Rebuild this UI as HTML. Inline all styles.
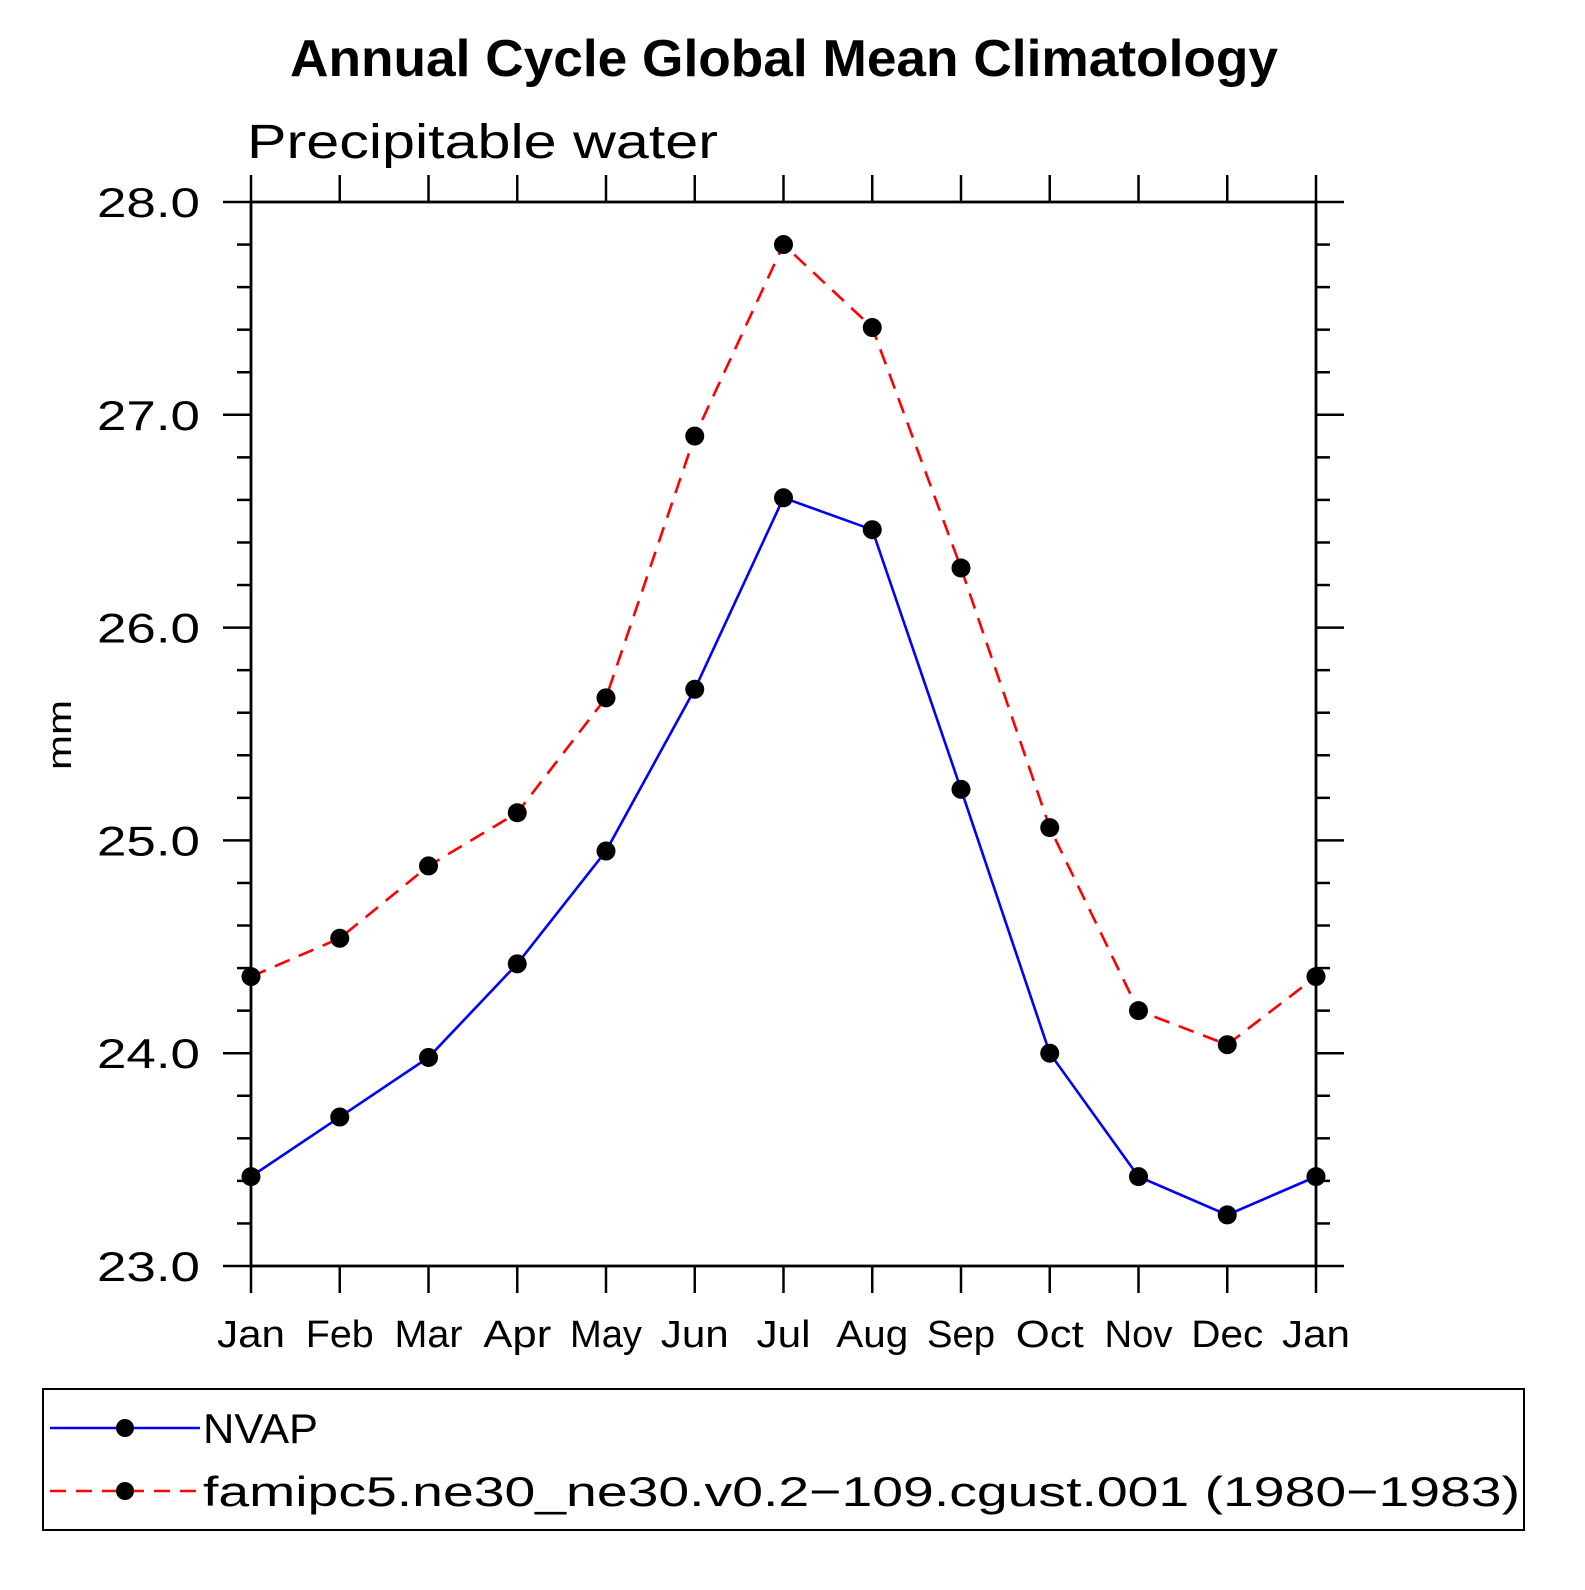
<!DOCTYPE html>
<html><head><meta charset="utf-8"><style>
html,body{margin:0;padding:0;background:#fff;}
svg text{font-family:"Liberation Sans",sans-serif;}
</style></head><body>
<svg id="chart" width="1585" height="1585" xmlns="http://www.w3.org/2000/svg">
<text x="290" y="76" font-size="52" font-weight="bold" textLength="988" lengthAdjust="spacingAndGlyphs">Annual Cycle Global Mean Climatology</text>
<text x="247" y="158" font-size="48" textLength="471" lengthAdjust="spacingAndGlyphs">Precipitable water</text>
<text transform="translate(71,770) rotate(-90)" font-size="34" textLength="70" lengthAdjust="spacingAndGlyphs">mm</text>
<g id="axes"></g>
<g id="series"></g>
<rect x="43" y="1389" width="1481" height="141" fill="none" stroke="#000" stroke-width="2"/>
<g>
<line x1="50" y1="1428" x2="200" y2="1428" stroke="#0000ff" stroke-width="2.5"/>
<circle cx="125" cy="1428" r="9" fill="#000"/>
<text x="203" y="1443" font-size="42" textLength="115" lengthAdjust="spacingAndGlyphs">NVAP</text>
</g>
<g>
<line x1="50" y1="1491" x2="200" y2="1491" stroke="#ff0000" stroke-width="2.5" stroke-dasharray="16,10"/>
<circle cx="125" cy="1491" r="9" fill="#000"/>
<text x="203" y="1506" font-size="42" textLength="1317" lengthAdjust="spacingAndGlyphs">famipc5.ne30_ne30.v0.2−109.cgust.001 (1980−1983)</text>
</g>
</svg>
<script>
const months = ["Jan","Feb","Mar","Apr","May","Jun","Jul","Aug","Sep","Oct","Nov","Dec","Jan"];
const nvap = [23.42,23.70,23.98,24.42,24.95,25.71,26.61,26.46,25.24,24.00,23.42,23.24,23.42];
const model = [24.36,24.54,24.88,25.13,25.67,26.90,27.80,27.41,26.28,25.06,24.20,24.04,24.36];
const yTicks = [23.0,24.0,25.0,26.0,27.0,28.0];
const yMin = 23, yMax = 28;
const X0=251, X1=1316, Y0=1266, Y1=202;
const NS="http://www.w3.org/2000/svg";
function xs(i){return X0+(X1-X0)*i/(months.length-1);}
function ys(v){return Y0-(v-yMin)/(yMax-yMin)*(Y0-Y1);}
function mk(tag,attrs,parent){const e=document.createElementNS(NS,tag);for(const k in attrs)e.setAttribute(k,attrs[k]);parent.appendChild(e);return e;}
const ax=document.getElementById('axes');
const frame=mk('rect',{x:X0,y:Y1,width:X1-X0,height:Y0-Y1,fill:'none',stroke:'#000','stroke-width':2.8},ax);


for(let v=yMin; v<=yMax+1e-9; v+=0.2){
  const y=ys(v); const major=Math.abs(v-Math.round(v))<1e-6; const L=major?28:14;
  const t1=mk('line',{x1:X0-L,x2:X0,y1:y,y2:y,stroke:'#000','stroke-width':2.5},ax);
  
  
  const t2=mk('line',{x1:X1,x2:X1+L,y1:y,y2:y,stroke:'#000','stroke-width':2.5},ax);
  
  
}
yTicks.forEach(v=>{
  const t=mk('text',{x:97,y:ys(v)+15,'font-size':42,textLength:103,lengthAdjust:'spacingAndGlyphs'},ax);
  t.textContent=v.toFixed(1);
  
  
});
months.forEach((m,i)=>{
  const x=xs(i);
  const a=mk('line',{x1:x,x2:x,y1:Y0,y2:Y0+27,stroke:'#000','stroke-width':2.5},ax);
  
  
  const b=mk('line',{x1:x,x2:x,y1:Y1-27,y2:Y1,stroke:'#000','stroke-width':2.5},ax);
  
  
  const w=(m==="May"||m==="Aug"||m==="Dec")?72:(m==="Jul"?54:68);
  const t=mk('text',{x:x-w/2,y:1347,'font-size':38,textLength:w,lengthAdjust:'spacingAndGlyphs'},ax);
  t.textContent=m;
  
  
});
const sg=document.getElementById('series');
function drawSeries(vals,color,dash,name){
  const pts=vals.map((v,i)=>xs(i)+','+ys(v)).join(' ');
  const p=mk('polyline',{points:pts,fill:'none',stroke:color,'stroke-width':2.6},sg);
  if(dash)p.setAttribute('stroke-dasharray',dash);
  
  
  vals.forEach((v,i)=>{
    const c=mk('circle',{cx:xs(i),cy:ys(v),r:9.5,fill:'#000'},sg);
    
    
  });
}
drawSeries(model,'#ff0000','16,10','model');
drawSeries(nvap,'#0000ff',null,'nvap');
</script>
</body></html>
